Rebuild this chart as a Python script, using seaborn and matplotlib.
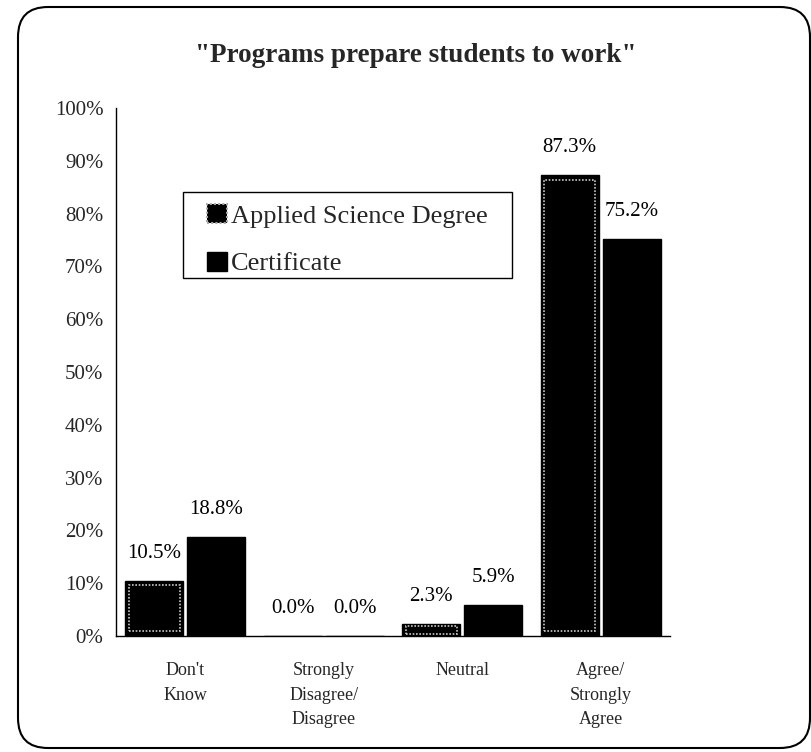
import numpy as np
import pandas as pd
import seaborn as sns
import matplotlib
matplotlib.use("Agg")
import matplotlib.pyplot as plt
from matplotlib.patches import FancyBboxPatch, Rectangle

categories = ["Don't\nKnow", "Strongly\nDisagree/\nDisagree", "Neutral", "Agree/\nStrongly\nAgree"]
series_names = ["Applied Science Degree", "Certificate"]
applied_values = [10.5, 0.0, 2.3, 87.3]
certificate_values = [18.8, 0.0, 5.9, 75.2]
y_ticks = [0, 10, 20, 30, 40, 50, 60, 70, 80, 90, 100]
y_tick_labels = [f"{t}%" for t in y_ticks]
title = '"Programs prepare students to work"'

df = pd.DataFrame({
    "category": categories * 2,
    "series": [series_names[0]] * 4 + [series_names[1]] * 4,
    "value": applied_values + certificate_values,
})

sns.set_theme(style="white")
plt.rcParams['font.family'] = ['Liberation Serif', 'DejaVu Serif']

fig = plt.figure(figsize=(8.12, 7.52), dpi=100)
ax = fig.add_axes([116/812, 1-636/752, (670-116)/812, (636-108)/752])

sns.barplot(data=df, x="category", y="value", hue="series", order=categories,
            hue_order=series_names, palette=["black", "black"], width=0.9, gap=0.07,
            edgecolor="black", linewidth=1, saturation=1, ax=ax, legend=True)

# inner dotted outline on Applied Science Degree bars
for bar in ax.containers[0]:
    x, y0 = bar.get_x(), bar.get_y()
    w, h = bar.get_width(), bar.get_height()
    if h > 0:
        inset_x = w * 0.06
        inset_y = min(0.9, h * 0.2)
        ax.add_patch(Rectangle((x + inset_x, y0 + inset_y), w - 2*inset_x, h - 2*inset_y,
                               fill=False, edgecolor="#c8c8c8", linestyle=(0, (1, 1)),
                               linewidth=1.2, zorder=5))

for cont in ax.containers:
    ax.bar_label(cont, labels=[f"{v:.1f}%" for v in cont.datavalues], padding=13,
                 fontsize=15, color="black")

ax.set_ylim(0, 100)
ax.set_xlim(-0.5, 3.5)
ax.set_yticks(y_ticks)
ax.set_yticklabels(y_tick_labels, fontsize=15)
ax.set_xticks([-0.5, 0.5, 1.5, 2.5, 3.5])
ax.set_xticklabels([])
ax.set_xticks(range(len(categories)), minor=True)
ax.set_xticklabels(categories, minor=True, fontsize=13, linespacing=1.55, va="top")
ax.tick_params(axis="x", which="minor", length=0, pad=19)
ax.tick_params(axis="x", which="major", length=4, width=1, direction="out", color="black")
ax.tick_params(axis="y", length=4, width=1, direction="out", color="black", pad=5)
ax.set_xlabel("")
ax.set_ylabel("")
for s in ["top", "right"]:
    ax.spines[s].set_visible(False)
for s in ["left", "bottom"]:
    ax.spines[s].set_color("black")
    ax.spines[s].set_linewidth(1)
ax.grid(False)

# legend box frame
fig.patches.append(Rectangle((183/812, 1-278/752), (512-183)/812, (278-192)/752,
                             transform=fig.transFigure, fill=False,
                             edgecolor="black", linewidth=1))
leg = ax.legend(loc="upper left", bbox_to_anchor=(207/812, 1-204/752),
                bbox_transform=fig.transFigure, borderaxespad=0, fontsize=19,
                frameon=False, handlelength=0.75, handleheight=0.75,
                handletextpad=0.15, labelspacing=0.9, borderpad=0)
h0 = leg.legend_handles[0]
h0.set_edgecolor("#aaaaaa")
h0.set_linestyle((0, (1, 1)))
h0.set_linewidth(1.5)

fig.text(416/812, 1-56/752, title, ha="center", va="center", fontsize=19.5,
         fontweight="bold")

border = FancyBboxPatch((0.18, 0.04), 7.92, 7.41,
                        boxstyle="round,pad=0,rounding_size=0.3",
                        transform=fig.dpi_scale_trans, fill=False,
                        edgecolor="black", linewidth=1.5)
fig.patches.append(border)

fig.savefig("out.png", dpi=100)
